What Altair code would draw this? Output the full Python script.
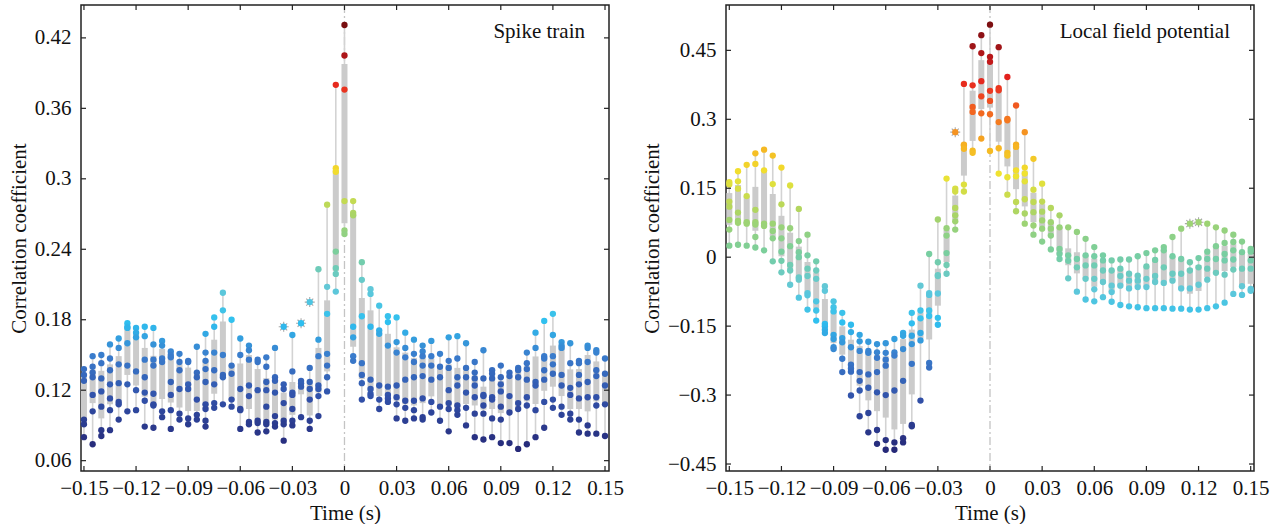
import altair as alt
import pandas as pd

# ---------------- data ----------------
time_s = [round(-0.15 + 0.005 * i, 3) for i in range(61)]

spike_values = [
    [0.138, 0.133, 0.128, 0.095, 0.091, 0.080],
    [0.149, 0.140, 0.135, 0.131, 0.116, 0.102, 0.074],
    [0.150, 0.143, 0.130, 0.119, 0.106, 0.086, 0.081],
    [0.159, 0.147, 0.137, 0.125, 0.113, 0.103, 0.086],
    [0.164, 0.156, 0.142, 0.126, 0.110, 0.108, 0.095],
    [0.177, 0.174, 0.173, 0.160, 0.141, 0.125, 0.102],
    [0.173, 0.169, 0.165, 0.136, 0.120, 0.103],
    [0.174, 0.166, 0.146, 0.131, 0.118, 0.111, 0.089],
    [0.173, 0.159, 0.146, 0.141, 0.117, 0.108, 0.107, 0.088],
    [0.162, 0.158, 0.147, 0.144, 0.102, 0.097],
    [0.153, 0.150, 0.148, 0.127, 0.116, 0.103, 0.087],
    [0.151, 0.144, 0.137, 0.121, 0.100, 0.095],
    [0.145, 0.144, 0.125, 0.121, 0.096, 0.091],
    [0.157, 0.135, 0.131, 0.112, 0.099, 0.095],
    [0.168, 0.152, 0.145, 0.138, 0.127, 0.108, 0.104, 0.094, 0.089],
    [0.182, 0.174, 0.152, 0.137, 0.125, 0.109, 0.105],
    [0.203, 0.188, 0.150, 0.133, 0.131, 0.108],
    [0.180, 0.141, 0.134, 0.112, 0.106],
    [0.164, 0.150, 0.121, 0.104, 0.103, 0.087],
    [0.158, 0.154, 0.146, 0.124, 0.115, 0.093, 0.091],
    [0.146, 0.144, 0.120, 0.094, 0.092, 0.084],
    [0.148, 0.140, 0.127, 0.120, 0.106, 0.093, 0.091, 0.085],
    [0.156, 0.131, 0.128, 0.118, 0.098, 0.092, 0.089],
    [0.125, 0.121, 0.109, 0.094, 0.091, 0.077],
    [0.167, 0.136, 0.118, 0.116, 0.104, 0.094, 0.090],
    [0.128, 0.126, 0.123, 0.097],
    [0.139, 0.127, 0.121, 0.112, 0.094, 0.087],
    [0.223, 0.163, 0.149, 0.124, 0.121, 0.115, 0.098],
    [0.278, 0.208, 0.185, 0.151, 0.141, 0.131, 0.119],
    [0.380, 0.309, 0.306, 0.238, 0.224, 0.219, 0.204],
    [0.431, 0.405, 0.376, 0.281, 0.256, 0.253],
    [0.281, 0.271, 0.269, 0.174, 0.165, 0.149, 0.145],
    [0.229, 0.214, 0.183, 0.143, 0.133, 0.126, 0.112],
    [0.206, 0.202, 0.174, 0.129, 0.121, 0.117, 0.115],
    [0.192, 0.171, 0.168, 0.124, 0.112, 0.104],
    [0.183, 0.178, 0.158, 0.123, 0.116, 0.113, 0.110],
    [0.182, 0.161, 0.152, 0.124, 0.114, 0.108, 0.096],
    [0.169, 0.156, 0.148, 0.129, 0.111, 0.105, 0.094],
    [0.163, 0.151, 0.144, 0.131, 0.111, 0.103, 0.096],
    [0.158, 0.153, 0.149, 0.141, 0.132, 0.113, 0.097, 0.095],
    [0.162, 0.149, 0.141, 0.129, 0.110, 0.101],
    [0.151, 0.140, 0.131, 0.106, 0.094],
    [0.165, 0.145, 0.139, 0.120, 0.109, 0.104, 0.085],
    [0.166, 0.147, 0.131, 0.124, 0.107, 0.103, 0.099],
    [0.160, 0.139, 0.131, 0.118, 0.105, 0.090],
    [0.144, 0.135, 0.130, 0.124, 0.114, 0.100, 0.080],
    [0.154, 0.130, 0.116, 0.115, 0.107, 0.100, 0.078],
    [0.137, 0.134, 0.130, 0.114, 0.112, 0.096, 0.080],
    [0.141, 0.131, 0.125, 0.119, 0.106, 0.095, 0.075],
    [0.135, 0.132, 0.115, 0.101, 0.075],
    [0.139, 0.137, 0.131, 0.109, 0.104, 0.070],
    [0.152, 0.143, 0.138, 0.129, 0.114, 0.107, 0.074],
    [0.169, 0.156, 0.127, 0.124, 0.103, 0.080],
    [0.179, 0.149, 0.147, 0.137, 0.129, 0.110, 0.088],
    [0.185, 0.167, 0.149, 0.142, 0.134, 0.112, 0.105],
    [0.161, 0.158, 0.156, 0.133, 0.124, 0.106, 0.099],
    [0.160, 0.143, 0.122, 0.116, 0.100, 0.095],
    [0.145, 0.143, 0.133, 0.125, 0.113, 0.095, 0.084],
    [0.158, 0.156, 0.144, 0.127, 0.114, 0.090, 0.083],
    [0.154, 0.152, 0.137, 0.132, 0.114, 0.107, 0.083],
    [0.147, 0.134, 0.124, 0.108, 0.081],
]
spike_star_time = [-0.035, -0.025, -0.02]
spike_star_value = [0.174, 0.177, 0.195]

lfp_values = [
    [0.163, 0.158, 0.121, 0.110, 0.081, 0.060, 0.025],
    [0.187, 0.165, 0.149, 0.097, 0.079, 0.075, 0.027],
    [0.201, 0.133, 0.076, 0.073, 0.025],
    [0.226, 0.203, 0.103, 0.076, 0.071, 0.044, 0.021],
    [0.234, 0.189, 0.073, 0.068, 0.015],
    [0.221, 0.159, 0.073, 0.057, 0.041, -0.009],
    [0.195, 0.115, 0.065, 0.041, 0.012, -0.008, -0.033],
    [0.156, 0.063, 0.024, -0.017, -0.029, -0.060],
    [0.105, 0.035, 0.011, 0.000, -0.044, -0.049, -0.088],
    [0.049, 0.004, -0.025, -0.041, -0.078, -0.083, -0.114],
    [-0.009, -0.029, -0.047, -0.096, -0.116, -0.138],
    [-0.063, -0.073, -0.145, -0.150, -0.158, -0.165],
    [-0.096, -0.109, -0.118, -0.169, -0.178, -0.196, -0.200],
    [-0.121, -0.142, -0.176, -0.185, -0.221, -0.250],
    [-0.147, -0.163, -0.196, -0.234, -0.242, -0.249, -0.301],
    [-0.169, -0.183, -0.204, -0.250, -0.269, -0.290, -0.346],
    [-0.184, -0.204, -0.208, -0.255, -0.284, -0.339, -0.381],
    [-0.189, -0.207, -0.219, -0.250, -0.294, -0.376, -0.406],
    [-0.187, -0.208, -0.223, -0.236, -0.300, -0.398, -0.419],
    [-0.178, -0.207, -0.214, -0.290, -0.403, -0.419],
    [-0.165, -0.171, -0.200, -0.269, -0.394, -0.403],
    [-0.121, -0.144, -0.171, -0.189, -0.232, -0.365, -0.368],
    [-0.062, -0.116, -0.133, -0.165, -0.181, -0.312],
    [0.007, -0.078, -0.082, -0.116, -0.128, -0.230, -0.240],
    [0.082, -0.011, -0.039, -0.041, -0.079, -0.132, -0.147],
    [0.171, 0.063, 0.047, 0.009, -0.017, -0.036],
    [0.149, 0.143, 0.107, 0.091, 0.078, 0.060],
    [0.377, 0.245, 0.243, 0.236, 0.158, 0.143],
    [0.459, 0.374, 0.327, 0.316, 0.232, 0.227],
    [0.483, 0.444, 0.383, 0.350, 0.313, 0.258],
    [0.506, 0.436, 0.425, 0.362, 0.340, 0.311, 0.231],
    [0.457, 0.368, 0.363, 0.294, 0.237, 0.182],
    [0.392, 0.301, 0.298, 0.227, 0.221, 0.174, 0.136],
    [0.330, 0.245, 0.240, 0.189, 0.176, 0.120, 0.100],
    [0.272, 0.195, 0.182, 0.165, 0.126, 0.095, 0.073],
    [0.214, 0.147, 0.120, 0.098, 0.069, 0.049],
    [0.160, 0.121, 0.099, 0.080, 0.062, 0.034],
    [0.107, 0.076, 0.062, 0.047, 0.017],
    [0.091, 0.065, 0.018, 0.007, -0.004],
    [0.065, 0.004, -0.008, -0.046],
    [0.055, -0.004, -0.022, -0.075],
    [0.040, 0.004, -0.018, -0.047, -0.092],
    [0.022, 0.002, -0.018, -0.047, -0.070, -0.096],
    [0.004, -0.007, -0.029, -0.054, -0.087],
    [-0.007, -0.029, -0.062, -0.076, -0.097],
    [-0.005, -0.025, -0.041, -0.062, -0.104],
    [-0.005, -0.036, -0.051, -0.068, -0.107],
    [0.002, -0.040, -0.051, -0.065, -0.109],
    [0.009, -0.020, -0.047, -0.065, -0.111],
    [0.015, -0.006, -0.041, -0.054, -0.111],
    [0.022, 0.015, -0.022, -0.056, -0.111],
    [0.044, 0.002, -0.036, -0.051, -0.112],
    [0.062, -0.004, -0.036, -0.068, -0.112],
    [-0.011, -0.029, -0.068, -0.114],
    [-0.002, -0.022, -0.060, -0.114],
    [0.073, 0.012, -0.004, -0.025, -0.049, -0.111],
    [0.065, 0.024, -0.004, -0.034, -0.107],
    [0.058, 0.031, 0.007, -0.007, -0.038, -0.099],
    [0.049, 0.033, 0.015, -0.005, -0.027, -0.080],
    [0.034, 0.011, -0.025, -0.063, -0.082],
    [0.018, 0.012, -0.007, -0.025, -0.069, -0.073],
]
lfp_star_time = [-0.02, 0.115, 0.12]
lfp_star_value = [0.272, 0.073, 0.076]

x_ticks = [-0.15, -0.12, -0.09, -0.06, -0.03, 0, 0.03, 0.06, 0.09, 0.12, 0.15]
spike_y_ticks = [0.06, 0.12, 0.18, 0.24, 0.3, 0.36, 0.42]
lfp_y_ticks = [-0.45, -0.3, -0.15, 0, 0.15, 0.3, 0.45]

# ---------------- style ----------------
W, H = 528, 466
FONT = "Liberation Serif"
TXT = "#111111"
FS = 21

stops = [0, 0.12, 0.22, 0.30, 0.38, 0.46, 0.55, 0.645, 0.71, 0.77, 0.84, 0.88, 0.95, 1.0]
cols = ["#262978", "#3150a8", "#3a7ccc", "#2ec0f0", "#62c8d8", "#78cea0", "#a8d468",
        "#f0e430", "#f6b422", "#f47a20", "#ec3a20", "#e01c1c", "#9a1418", "#7a0e10"]

STAR = "M-1,0L1,0M0,-1L0,1M-0.7,-0.7L0.7,0.7M-0.7,0.7L0.7,-0.7"


def panel(values, star_t, star_v, xdom, ydom, yticks, cmin, cmax, label):
    rows = [{"t": t, "v": v, "star": 0} for t, vs in zip(time_s, values) for v in vs]
    rows += [{"t": t, "v": v, "star": 1} for t, v in zip(star_t, star_v)]
    df = pd.DataFrame(rows)

    xs = alt.Scale(domain=xdom, nice=False, zero=False)
    ys = alt.Scale(domain=ydom, nice=False, zero=False)
    xaxis = alt.Axis(values=x_ticks, format=".2~f", title="Time (s)")
    yaxis = alt.Axis(values=yticks, format=".2~f", title="Correlation coefficient")
    cscale = alt.Scale(domain=[cmin + s * (cmax - cmin) for s in stops], range=cols,
                       interpolate="rgb")

    X = alt.X("t:Q", scale=xs, axis=xaxis)

    zero = alt.Chart(pd.DataFrame({"t": [0]})).mark_rule(
        color="#c4c4c4", strokeWidth=1.3, strokeDash=[8, 3, 2, 3]
    ).encode(x=X)

    base = alt.Chart(df)
    clean = base.transform_filter("datum.star == 0")
    whisk = clean.mark_rule(color="#d3d3d3", strokeWidth=1.6).encode(
        x=X, y=alt.Y("min(v):Q", scale=ys, axis=yaxis), y2="max(v)"
    )
    box = clean.mark_rule(color="#cbcbcb", strokeWidth=6).encode(
        x=X, y=alt.Y("q1(v):Q", scale=ys, axis=yaxis), y2="q3(v)"
    )
    stars = base.transform_filter("datum.star == 1").mark_point(
        shape=STAR, size=100, filled=False, stroke="#a8a8a8", strokeWidth=1.1, opacity=1
    ).encode(x=X, y=alt.Y("v:Q", scale=ys, axis=yaxis))
    dots = base.mark_circle(size=40, opacity=1).encode(
        x=X, y=alt.Y("v:Q", scale=ys, axis=yaxis),
        color=alt.Color("v:Q", scale=cscale, legend=None),
    )

    xt = alt.Chart(pd.DataFrame({"t": x_ticks}))
    tick_top = xt.mark_rule(color="#222", strokeWidth=1.2).encode(
        x=X, y=alt.value(0), y2=alt.value(5))
    tick_bot = xt.mark_rule(color="#222", strokeWidth=1.2).encode(
        x=X, y=alt.value(H - 5), y2=alt.value(H))
    yt = alt.Chart(pd.DataFrame({"v": yticks}))
    Y = alt.Y("v:Q", scale=ys, axis=yaxis)
    tick_l = yt.mark_rule(color="#222", strokeWidth=1.2).encode(
        y=Y, x=alt.value(0), x2=alt.value(5))
    tick_r = yt.mark_rule(color="#222", strokeWidth=1.2).encode(
        y=Y, x=alt.value(W - 5), x2=alt.value(W))

    lab = alt.Chart(pd.DataFrame({"label": [label]})).mark_text(
        align="right", baseline="alphabetic", font=FONT, fontSize=FS, color=TXT
    ).encode(x=alt.value(W - 24), y=alt.value(33), text="label:N")

    return alt.layer(zero, whisk, box, stars, dots, tick_top, tick_bot, tick_l, tick_r, lab).properties(
        width=W, height=H
    )


left = panel(spike_values, spike_star_time, spike_star_value,
             [-0.1517, 0.1523], [0.0512, 0.448], spike_y_ticks, 0.07, 0.43, "Spike train")
right = panel(lfp_values, lfp_star_time, lfp_star_value,
              [-0.1519, 0.1519], [-0.4652, 0.5487], lfp_y_ticks, -0.42, 0.51, "Local field potential")

chart = alt.hconcat(left, right, spacing=117, bounds="flush").resolve_scale(
    x="independent", y="independent", color="independent"
).configure_view(
    stroke="#222222", strokeWidth=1.5
).configure_axis(
    labelFont=FONT, labelFontSize=FS, labelColor=TXT,
    titleFont=FONT, titleFontSize=FS, titleFontWeight="normal", titleColor=TXT,
    ticks=False, domain=False, grid=False,
).configure_axisX(
    labelPadding=6, titlePadding=4,
).configure_axisY(
    labelPadding=10, titlePadding=5,
).properties(
    padding={"left": 7, "top": 3, "right": 0, "bottom": 0},
    background="white",
)

chart.save("out.html", embed_options={"renderer": "svg", "actions": False})
